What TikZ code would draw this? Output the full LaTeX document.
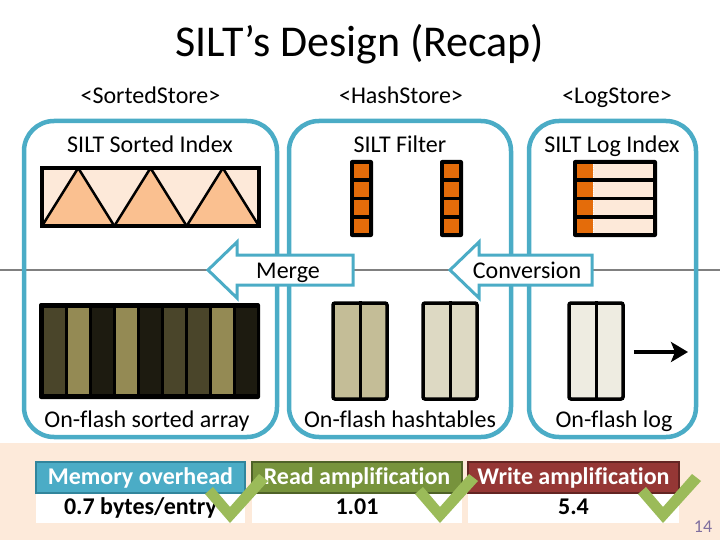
\documentclass[tikz,border=0pt]{standalone}
\usepackage{fontspec}
\setmainfont{Carlito}[Ligatures=NoCommon]
\usepackage{xcolor}
\definecolor{storeteal}{HTML}{4BACC6}
\definecolor{darkteal}{HTML}{31859C}
\definecolor{palepeach}{HTML}{FDE9D9}
\definecolor{softorange}{HTML}{FAC090}
\definecolor{deeporange}{HTML}{E46C0A}
\definecolor{bandpeach}{HTML}{FDEADA}
\definecolor{olivedark}{HTML}{4A452A}
\definecolor{olivekhaki}{HTML}{948A54}
\definecolor{oliveblack}{HTML}{1D1B10}
\definecolor{tanA}{HTML}{C4BD97}
\definecolor{tanB}{HTML}{DDD9C3}
\definecolor{tanC}{HTML}{EEECE1}
\definecolor{readgreen}{HTML}{77933C}
\definecolor{readgreendark}{HTML}{4F6228}
\definecolor{writered}{HTML}{953735}
\definecolor{writereddark}{HTML}{632523}
\definecolor{checkgreen}{HTML}{9BBB59}
\definecolor{pagepurple}{HTML}{7F6F9F}
\usepackage{tikz}
\usetikzlibrary{arrows.meta, positioning}
\tikzset{
    txt/.style={font=\fontsize{24}{28}\selectfont, anchor=base, inner sep=0pt},
    boldtxt/.style={txt, font=\fontsize{24}{28}\selectfont\bfseries},
    store/.style={draw=storeteal, line width=4.5pt, rounded corners=30pt},
    blockarrow/.style={draw=storeteal, line width=3pt, fill=white, line join=miter},
    flashtab/.style={draw=black, line width=3.5pt, minimum width=54pt, minimum height=96pt, inner sep=0pt, rounded corners=2pt},
    metrichead/.style={line width=2.5pt},
    checkmark/.style={fill=checkgreen}
}

\begin{document}
\begin{tikzpicture}[x=1pt, y=-1pt]
    \useasboundingbox (0,0) rectangle (720,540);
    % band and memory/flash line
    \fill[bandpeach] (0,443) rectangle (720,540);
    \draw[gray, line width=2pt] (0,270) -- (720,270);

    % title and store names
    \node[txt, font=\fontsize{44}{50}\selectfont] (title) at (360,57) {SILT’s Design (Recap)};
    \node[txt] (sortedlbl) at (150.5,104) {<SortedStore>};
    \node[txt] (hashlbl) at (401,104) {<HashStore>};
    \node[txt] (loglbl) at (617,104) {<LogStore>};

    % stores
    \draw[store] (24,121) rectangle (277,437);
    \draw[store] (289,121) rectangle (511,437);
    \draw[store] (529,121) rectangle (696,437);

    \node[txt] (sortedidx) at (150,153) {SILT Sorted Index};
    \node[txt] (filter) at (400,153) {SILT Filter};
    \node[txt] (logidx) at (612,153) {SILT Log Index};

    % sorted index
    \fill[palepeach] (42,168) rectangle (259,226);
    \foreach \i in {0,1,2}
        \draw[fill=softorange, line width=2.5pt, line join=round] ({42+\i*72.33},226) -- ({78.2+\i*72.33},168) -- ({114.3+\i*72.33},226) -- cycle;
    \draw[line width=3.5pt] (42,168) rectangle (259,226);

    % filter
    \foreach \x in {350,440} {
        \fill[black, rounded corners=2pt] (\x,160) rectangle +(23,77);
        \foreach \j in {0,...,3}
            \fill[deeporange] (\x+4,164+\j*18.2) rectangle +(15,14.5);
    }

    % log index
    \fill[black, rounded corners=2pt] (573,160) rectangle (657,237);
    \foreach \j in {0,...,3} {
        \fill[deeporange] (577,164+\j*18.2) rectangle +(16,14.5);
        \fill[palepeach] (593,164+\j*18.2) rectangle (653,178.5+\j*18.2);
        \draw[white, line width=1pt, dash pattern=on 1pt off 1.2pt] (593.5,164+\j*18.2) -- +(0,14.5);
    }

    % Merge / Conversion
    \draw[blockarrow] (208,270) -- (237,242) -- (237,255) -- (353,255) -- (353,285) -- (237,285) -- (237,298) -- cycle;
    \node[txt] (merge) at (288,278) {Merge};
    \draw[blockarrow] (450,270) -- (479,242) -- (479,255) -- (592,255) -- (592,285) -- (479,285) -- (479,298) -- cycle;
    \node[txt] (conv) at (527,278) {Conversion};

    % on-flash sorted array
    \fill[black, rounded corners=2pt] (39,303) rectangle (260,399);
    \foreach \i/\c in {0/olivedark,1/olivekhaki,2/oliveblack,3/olivekhaki,4/oliveblack,5/olivedark,6/olivedark,7/olivekhaki,8/oliveblack}
        \fill[\c] ({43.5+\i*24.1},308) rectangle +(21,86);

    % on-flash hashtables and log
    \node[flashtab, fill=tanA] (hash1) at (360,351) {};
    \node[flashtab, fill=tanB] (hash2) at (450,351) {};
    \node[flashtab, fill=tanC] (logfl) at (596,351) {};
    \foreach \t in {hash1,hash2,logfl}
        \draw[line width=3pt] (\t.north) -- (\t.south);
    \coordinate (logtip) at (688,352);
    \draw[line width=4pt, -{Stealth[length=17pt, width=20pt, inset=4pt]}] ([xshift=9pt, yshift=-1pt]logfl.east) -- (logtip);

    \node[txt] (sortedfl) at (147,427) {On-flash sorted array};
    \node[txt] (hashfl) at (400,427) {On-flash hashtables};
    \node[txt] (logfltxt) at (614,427) {On-flash log};

    % metrics
    \foreach \xa/\xb/\hc/\bc/\nm/\head/\val in {36/245/storeteal/darkteal/mem/Memory overhead/{0.7 bytes/entry},
                                              252/462/readgreen/readgreendark/read/Read amplification/1.01,
                                              468/679/writered/writereddark/write/Write amplification/5.4} {
        \fill[white] (\xa,493) rectangle (\xb,523);
        \draw[metrichead, draw=\bc, fill=\hc] (\xa,462) rectangle (\xb,493);
        \node[boldtxt, text=white] (\nm head) at ({(\xa+\xb)/2},484) {\head};
        \node[boldtxt] (\nm val) at ({(\xa+\xb)/2},514) {\val};
    }

    % checks
    \foreach \bx in {230,440,663}
        \fill[checkmark] (\bx-25,494) -- (\bx-17,487) -- (\bx,507) -- (\bx+29,474) -- (\bx+38,481) -- (\bx,523) -- cycle;

    \node[txt, font=\fontsize{18}{20}\selectfont, text=pagepurple] (pagenum) at (703,532) {14};
\end{tikzpicture}
\end{document}
